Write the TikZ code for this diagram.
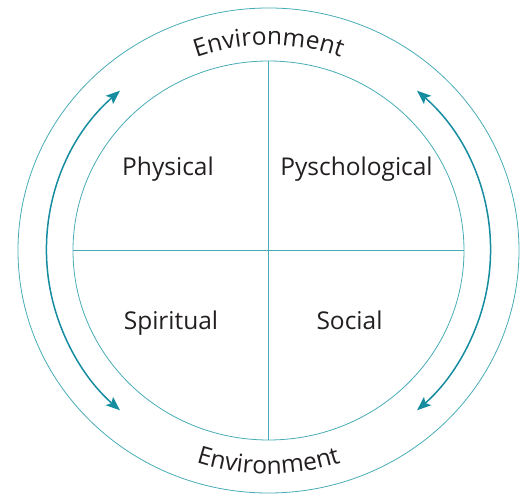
\documentclass[tikz,border=0pt]{standalone}
\usepackage{fontspec}
\setmainfont{Open Sans}
\usetikzlibrary{decorations.text,arrows.meta}
\definecolor{ring}{RGB}{72,172,182}
\definecolor{arr}{RGB}{22,140,160}
\definecolor{ink}{RGB}{35,31,32}
\begin{document}
\begin{tikzpicture}[x=1pt,y=1pt,
  ringline/.style={draw=ring,line width=0.8pt},
  arrline/.style={draw=arr,line width=1.5pt,
    {Stealth[length=14pt,width=11pt,inset=3pt]}-{Stealth[length=14pt,width=11pt,inset=3pt]}},
  lbl/.style={font=\fontsize{24.5}{28}\selectfont,text=ink,anchor=base},
  curved/.style={decorate,decoration={text along path,text align=center,
    text={|\fontsize{24.5}{28}\selectfont\color{ink}|#1}}}]
\useasboundingbox (-268.5,-244.5) rectangle (261.5,250.5);
\coordinate (c) at (0,0);
\draw[ringline] (c) ellipse [x radius=250.5, y radius=242.5];
\draw[ringline] (c) ellipse [x radius=195.5, y radius=189.5];
\coordinate (n) at (0,189.5);
\coordinate (s) at (0,-189.5);
\coordinate (w) at (-195.5,0);
\coordinate (e) at (195.5,0);
\draw[ringline] (n) -- (s);
\draw[ringline] (w) -- (e);
\coordinate (lt) at (132:222 and 215);
\coordinate (rt) at (48:222 and 215);
\draw[arrline] (lt) arc[start angle=132,end angle=228,x radius=222,y radius=215];
\draw[arrline] (rt) arc[start angle=48,end angle=-48,x radius=222,y radius=215];
\node[lbl] (phys) at (-100.5,74.5) {Physical};
\node[lbl] (psych) at (88,74.5) {Pyschological};
\node[lbl] (spir) at (-97.5,-79.5) {Spiritual};
\node[lbl] (soc) at (81,-79.5) {Social};
\coordinate (tstart) at (160:212 and 205.5);
\coordinate (bstart) at (200:230 and 223.5);
\path[curved={Environment}] (tstart) arc[start angle=160,end angle=20,x radius=212,y radius=205.5];
\path[curved={Environment}] (bstart) arc[start angle=200,end angle=340,x radius=230,y radius=223.5];
\end{tikzpicture}
\end{document}
